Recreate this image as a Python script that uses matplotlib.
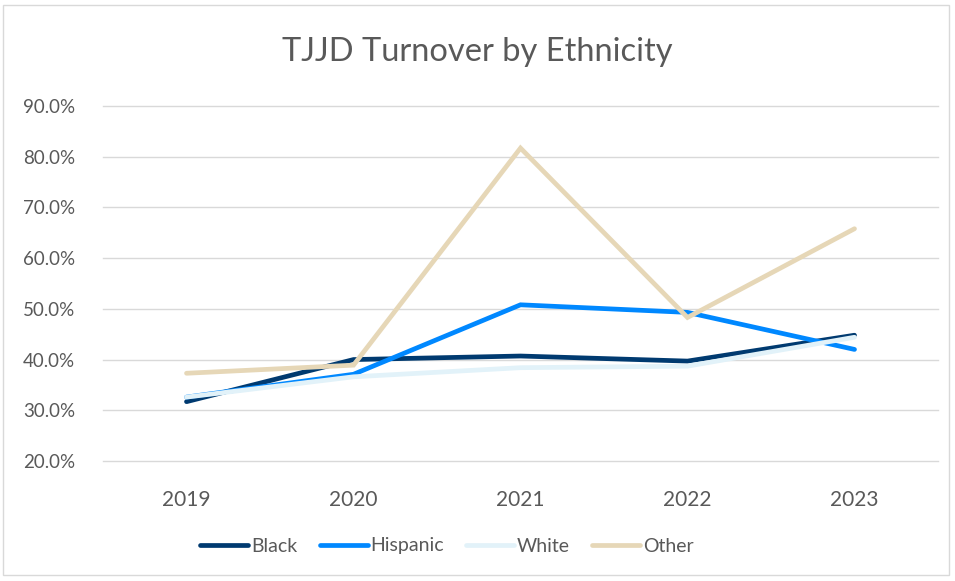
import matplotlib
matplotlib.use("Agg")
import matplotlib.pyplot as plt
from matplotlib.patches import Rectangle
from matplotlib.ticker import FuncFormatter

years = ["2019", "2020", "2021", "2022", "2023"]
black = [31.7, 40.0, 40.7, 39.7, 44.8]
hispanic = [32.6, 37.1, 50.8, 49.3, 42.0]
white = [32.6, 36.6, 38.4, 38.7, 44.4]
other = [37.3, 38.9, 81.7, 48.3, 65.8]
series_names = ["Black", "Hispanic", "White", "Other"]
colors = ["#003A70", "#0088FF", "#E2F2F9", "#E6D7B7"]

plt.rcParams['font.family'] = ['Lato', 'DejaVu Sans']
text_color = "#595959"

fig = plt.figure(figsize=(9.55, 5.81), dpi=100)
fig.patches.append(Rectangle((3/955, 6/581), 946/955, 570/581, transform=fig.transFigure,
                             fill=False, edgecolor="#D9D9D9", linewidth=1.0))
ax = fig.add_axes([103/955, 1-461/581, 835/955, 355/581])

x = list(range(len(years)))
for vals, name, c in zip([black, hispanic, white, other], series_names, colors):
    ax.plot(x, vals, color=c, linewidth=3.4, label=name, solid_capstyle='round', solid_joinstyle='miter')

ax.set_xlim(-0.5, len(years) - 0.5)
ax.set_ylim(20, 90)
ax.set_yticks(range(20, 91, 10))
ax.yaxis.set_major_formatter(FuncFormatter(lambda v, p: f"{v:.1f}%"))
ax.set_xticks(x)
ax.set_xticklabels(years)
ax.grid(axis='y', color="#D9D9D9", linewidth=1.0)
for gl in ax.get_ygridlines():
    gl.set_clip_on(False)
ax.set_axisbelow(True)
for s in ax.spines.values():
    s.set_visible(False)
ax.tick_params(axis='both', length=0, labelcolor=text_color)
ax.tick_params(axis='y', pad=20, labelsize=13.5)
ax.tick_params(axis='x', pad=21, labelsize=15)

fig.text(0.5, 1-52/581, "TJJD Turnover by Ethnicity", ha='center', va='center',
         fontsize=23.5, color=text_color)

leg = fig.legend(loc='center', bbox_to_anchor=(447/955, 1-546/581), ncol=4, frameon=False,
                 fontsize=14, handlelength=2.47, handletextpad=0.15, columnspacing=1.13)
for t in leg.get_texts():
    t.set_color(text_color)

fig.savefig("out.png", dpi=100)
